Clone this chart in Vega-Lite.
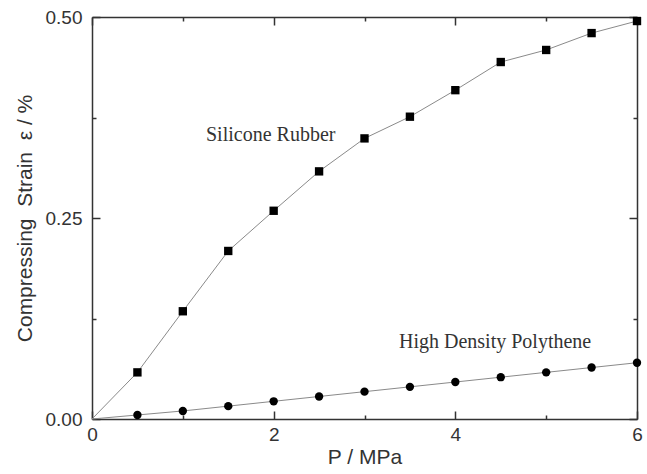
{
  "$schema": "https://vega.github.io/schema/vega-lite/v6.json",
  "width": 545,
  "height": 402,
  "autosize": "none",
  "padding": {"left": 92, "top": 17, "right": 10, "bottom": 55},
  "background": "white",
  "config": {
    "view": {"stroke": null},
    "axis": {
      "domainColor": "#333",
      "domainWidth": 1.5,
      "tickColor": "#333",
      "tickWidth": 1.5,
      "grid": false,
      "labelFlush": false,
      "labelFont": "Liberation Sans",
      "labelFontSize": 19,
      "labelColor": "#333",
      "titleFont": "Liberation Sans",
      "titleFontSize": 21,
      "titleFontWeight": "normal",
      "titleColor": "#333"
    }
  },
  "datasets": {
    "curves": [
      {"material": "Silicone Rubber", "P": 0, "strain": 0},
      {"material": "Silicone Rubber", "P": 0.5, "strain": 0.058},
      {"material": "Silicone Rubber", "P": 1, "strain": 0.134},
      {"material": "Silicone Rubber", "P": 1.5, "strain": 0.209},
      {"material": "Silicone Rubber", "P": 2, "strain": 0.259},
      {"material": "Silicone Rubber", "P": 2.5, "strain": 0.308},
      {"material": "Silicone Rubber", "P": 3, "strain": 0.349},
      {"material": "Silicone Rubber", "P": 3.5, "strain": 0.376},
      {"material": "Silicone Rubber", "P": 4, "strain": 0.409},
      {"material": "Silicone Rubber", "P": 4.5, "strain": 0.444},
      {"material": "Silicone Rubber", "P": 5, "strain": 0.459},
      {"material": "Silicone Rubber", "P": 5.5, "strain": 0.48},
      {"material": "Silicone Rubber", "P": 6, "strain": 0.495},
      {"material": "High Density Polythene", "P": 0, "strain": 0},
      {"material": "High Density Polythene", "P": 0.5, "strain": 0.005},
      {"material": "High Density Polythene", "P": 1, "strain": 0.010},
      {"material": "High Density Polythene", "P": 1.5, "strain": 0.016},
      {"material": "High Density Polythene", "P": 2, "strain": 0.022},
      {"material": "High Density Polythene", "P": 2.5, "strain": 0.028},
      {"material": "High Density Polythene", "P": 3, "strain": 0.034},
      {"material": "High Density Polythene", "P": 3.5, "strain": 0.040},
      {"material": "High Density Polythene", "P": 4, "strain": 0.046},
      {"material": "High Density Polythene", "P": 4.5, "strain": 0.052},
      {"material": "High Density Polythene", "P": 5, "strain": 0.058},
      {"material": "High Density Polythene", "P": 5.5, "strain": 0.064},
      {"material": "High Density Polythene", "P": 6, "strain": 0.070}
    ],
    "labels": [
      {"text": "Silicone Rubber", "P": 1.255, "strain": 0.353},
      {"text": "High Density Polythene", "P": 3.38, "strain": 0.096}
    ]
  },
  "resolve": {"axis": {"x": "independent", "y": "independent"}},
  "layer": [
    {
      "data": {"name": "curves"},
      "mark": {"type": "line", "color": "#8a8a8a", "strokeWidth": 1},
      "encoding": {
        "x": {
          "field": "P", "type": "quantitative",
          "scale": {"domain": [0, 6], "nice": false},
          "axis": {
            "orient": "bottom",
            "title": "P / MPa",
            "values": [0, 1, 2, 3, 4, 5, 6],
            "labelExpr": "datum.value % 2 === 0 ? datum.label : ''",
            "tickSize": {"condition": {"test": "datum.value % 2 === 0", "value": -8}, "value": -4},
            "labelPadding": 14,
            "titlePadding": 2
          }
        },
        "y": {
          "field": "strain", "type": "quantitative",
          "scale": {"domain": [0, 0.5], "nice": false},
          "axis": {
            "orient": "left",
            "title": "Compressing\u00a0\u00a0Strain\u00a0\u00a0ε / %",
            "values": [0, 0.125, 0.25, 0.375, 0.5],
            "format": ".2f",
            "labelExpr": "round(datum.value * 8) % 2 === 0 ? datum.label : ''",
            "tickSize": {"condition": {"test": "round(datum.value * 8) % 2 === 0", "value": -8}, "value": -4},
            "labelPadding": 18,
            "titlePadding": 10
          }
        },
        "detail": {"field": "material"}
      }
    },
    {
      "data": {"name": "curves"},
      "transform": [{"filter": "datum.P > 0"}],
      "mark": {"type": "point", "filled": true, "color": "black", "opacity": 1, "size": 70},
      "encoding": {
        "x": {"field": "P", "type": "quantitative", "axis": null},
        "y": {"field": "strain", "type": "quantitative", "axis": null},
        "shape": {
          "field": "material", "type": "nominal",
          "scale": {"domain": ["Silicone Rubber", "High Density Polythene"], "range": ["square", "circle"]},
          "legend": null
        }
      }
    },
    {
      "data": {"name": "labels"},
      "mark": {"type": "text", "align": "left", "baseline": "middle", "font": "Liberation Serif", "fontSize": 20, "color": "#333"},
      "encoding": {
        "x": {"field": "P", "type": "quantitative", "axis": null},
        "y": {"field": "strain", "type": "quantitative", "axis": null},
        "text": {"field": "text"}
      }
    },
    {
      "data": {"name": "curves"},
      "mark": {"type": "line", "opacity": 0},
      "encoding": {
        "x": {
          "field": "P", "type": "quantitative",
          "axis": {
            "orient": "top", "title": null, "labels": false,
            "values": [0, 1, 2, 3, 4, 5, 6],
            "tickSize": {"condition": {"test": "datum.value % 2 === 0", "value": -8}, "value": -4}
          }
        },
        "y": {
          "field": "strain", "type": "quantitative",
          "axis": {
            "orient": "right", "title": null, "labels": false,
            "values": [0, 0.125, 0.25, 0.375, 0.5],
            "tickSize": {"condition": {"test": "round(datum.value * 8) % 2 === 0", "value": -8}, "value": -4}
          }
        },
        "detail": {"field": "material"}
      }
    }
  ]
}
